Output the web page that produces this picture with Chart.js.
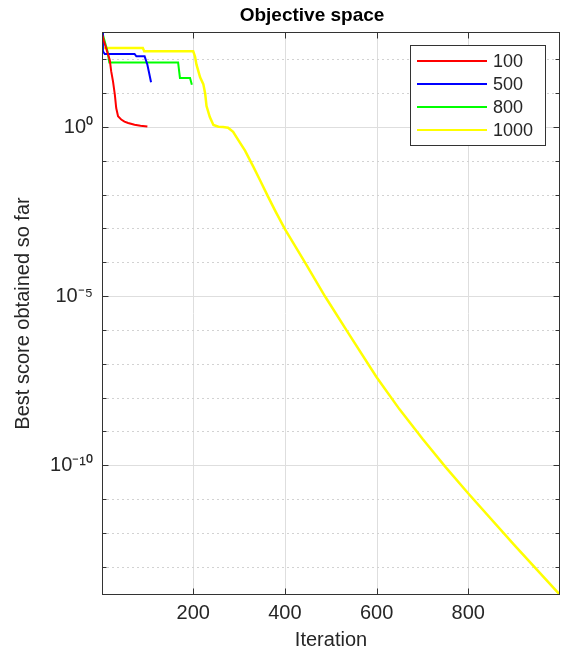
<!DOCTYPE html>
<html><head><meta charset="utf-8">
<script src="https://cdn.jsdelivr.net/npm/chart.js@4.4.0/dist/chart.umd.min.js"></script>
<style>html,body{margin:0;padding:0;background:#fff;}#wrap{width:562px;height:656px;}</style>
</head><body><div id="wrap"><canvas id="c" width="562" height="656"></canvas></div>
<script>
// ---- data ----
const seriesLabels = ['100', '500', '800', '1000'];
const seriesColors = ['#ff0000', '#0000ff', '#00ff00', '#ffff00'];

const redIter = [1, 5, 10, 18, 21, 25, 29, 32, 36, 43, 50, 58, 72, 85, 100];
const redVal  = [562, 355, 214, 95.5, 44.7, 22.4, 9.12, 3.63, 2.09, 1.66, 1.445, 1.318, 1.175, 1.096, 1.035];

const blueIter = [1, 3, 7, 72, 76, 94, 100, 103, 108];
const blueVal  = [603, 174, 145, 145, 123, 123, 69.2, 44.7, 21.0];

const greenIter = [1, 3, 7, 13, 16, 17, 167, 171, 193, 197];
const greenVal  = [603, 537, 339, 174, 97.7, 81.3, 81.3, 28.2, 28.2, 17.8];

const yellowIter = [1, 2, 90, 93, 200, 204, 207, 215, 222, 226, 229, 236, 244, 255, 265, 276, 287, 298, 313, 331, 346, 364, 380, 400, 444, 488, 539, 600, 650, 700, 750, 800, 900, 1000];
const yellowVal  = [646, 219, 219, 174, 174, 120, 70.8, 29.5, 18.6, 9.77, 4.17, 2.0, 1.15, 1.02, 1.0, 0.955, 0.724, 0.417, 0.200, 0.0676, 0.0263, 0.00832, 0.00309, 9.55e-4, 9.77e-5, 9.55e-6, 7.76e-7, 3.98e-8, 4.47e-9, 6.03e-10, 8.91e-11, 1.45e-11, 4.37e-13, 1.45e-14];

const xTickValues = [200, 400, 600, 800];
const yTickExponents = [2, 1, 0, -1, -2, -3, -4, -5, -6, -7, -8, -9, -10, -11, -12, -13];
const yTickLabels = { '0': '10\u2070', '-5': '10\u207B\u2075', '-10': '10\u207B\u00B9\u2070' };

const xMin = 1, xMax = 1000;
const yMin = 1.445e-14, yMax = 646;

// ---- build ----
const FONT = "'Liberation Sans', Arial, Helvetica, sans-serif";
const TXT = '#262626';
function pts(xs, ys) { return xs.map((x, i) => ({ x: x, y: ys[i] })); }
const allIters = [redIter, blueIter, greenIter, yellowIter];
const allVals = [redVal, blueVal, greenVal, yellowVal];

const datasets = seriesLabels.map((lab, i) => ({
  label: lab,
  data: pts(allIters[i], allVals[i]),
  borderColor: seriesColors[i],
  backgroundColor: seriesColors[i],
  borderWidth: i === 3 ? 2.5 : 2,
  pointRadius: 0,
  tension: 0,
  fill: false
}));

function expOf(v) { return Math.round(Math.log10(v)); }

const matlabPlugin = {
  id: 'matlabFrame',
  beforeDatasetsDraw(chart) {
    const { ctx, chartArea: a, scales: { x, y } } = chart;
    ctx.save();
    ctx.lineWidth = 1;
    ctx.strokeStyle = '#dedede';
    ctx.setLineDash([]);
    xTickValues.forEach(v => {
      const px = Math.round(x.getPixelForValue(v)) + 0.5;
      ctx.beginPath(); ctx.moveTo(px, a.top); ctx.lineTo(px, a.bottom); ctx.stroke();
    });
    yTickExponents.forEach(k => {
      const py = Math.round(y.getPixelForValue(Math.pow(10, k))) + 0.5;
      if (yTickLabels[String(k)] !== undefined) {
        ctx.strokeStyle = '#dedede'; ctx.setLineDash([]);
      } else {
        ctx.strokeStyle = '#d2d2d2'; ctx.setLineDash([2, 3]);
      }
      ctx.beginPath(); ctx.moveTo(a.left, py); ctx.lineTo(a.right, py); ctx.stroke();
    });
    ctx.restore();
  },
  afterDatasetsDraw(chart) {
    const { ctx, chartArea: a, scales: { x, y } } = chart;
    ctx.save();
    ctx.strokeStyle = '#333333';
    ctx.lineWidth = 1;
    ctx.setLineDash([]);
    const L = Math.round(a.left) + 0.5, R = Math.round(a.right) - 0.5;
    const T = Math.round(a.top) + 0.5, B = Math.round(a.bottom) - 0.5;
    ctx.strokeRect(L, T, R - L, B - T);
    xTickValues.forEach(v => {
      const px = Math.round(x.getPixelForValue(v)) + 0.5;
      ctx.beginPath(); ctx.moveTo(px, B); ctx.lineTo(px, B - 6); ctx.stroke();
      ctx.beginPath(); ctx.moveTo(px, T); ctx.lineTo(px, T + 6); ctx.stroke();
    });
    yTickExponents.forEach(k => {
      const py = Math.round(y.getPixelForValue(Math.pow(10, k))) + 0.5;
      const len = yTickLabels[String(k)] !== undefined ? 6 : 4;
      ctx.beginPath(); ctx.moveTo(L, py); ctx.lineTo(L + len, py); ctx.stroke();
      ctx.beginPath(); ctx.moveTo(R, py); ctx.lineTo(R - len, py); ctx.stroke();
    });
    // legend
    const bx = 410.5, by = 45.5, bw = 135, bh = 100;
    ctx.fillStyle = '#ffffff';
    ctx.fillRect(bx, by, bw, bh);
    ctx.strokeStyle = '#333333';
    ctx.strokeRect(bx, by, bw, bh);
    ctx.font = '18px ' + FONT;
    ctx.textBaseline = 'middle';
    ctx.textAlign = 'left';
    chart.data.datasets.forEach((ds, i) => {
      const ry = 61 + i * 23;
      ctx.strokeStyle = ds.borderColor;
      ctx.lineWidth = 2;
      ctx.beginPath(); ctx.moveTo(417, ry); ctx.lineTo(487, ry); ctx.stroke();
      ctx.fillStyle = TXT;
      ctx.fillText(ds.label, 493, ry + 1);
    });
    // title
    ctx.font = 'bold 19px ' + FONT;
    ctx.fillStyle = '#000000';
    ctx.textAlign = 'center';
    ctx.fillText('Objective space', 312, 16);
    ctx.restore();
  }
};

new Chart(document.getElementById('c'), {
  type: 'line',
  data: { datasets: datasets },
  options: {
    responsive: false,
    animation: false,
    devicePixelRatio: 1,
    layout: { padding: { top: 32, right: 2, left: 0, bottom: 0 } },
    plugins: { legend: { display: false }, tooltip: { enabled: false }, title: { display: false } },
    scales: {
      x: {
        type: 'linear', min: xMin, max: xMax,
        afterBuildTicks: s => { s.ticks = xTickValues.map(v => ({ value: v })); },
        afterFit: s => { s.height = 61; },
        grid: { display: false, drawTicks: false },
        border: { display: false },
        ticks: { autoSkip: false, maxRotation: 0, padding: 6, color: TXT, font: { family: FONT, size: 20 }, callback: v => String(v) },
        title: { display: true, text: 'Iteration', color: TXT, font: { family: FONT, size: 20 }, padding: { top: 0, bottom: 4 } }
      },
      y: {
        type: 'logarithmic', min: yMin, max: yMax,
        afterBuildTicks: s => { s.ticks = yTickExponents.map(k => ({ value: Math.pow(10, k) })); },
        afterFit: s => { s.width = 102; },
        grid: { display: false, drawTicks: false },
        border: { display: false },
        ticks: { autoSkip: false, padding: 9, color: TXT, font: { family: FONT, size: 20 },
          callback: v => { const l = yTickLabels[String(expOf(v))]; return l === undefined ? '' : l; } },
        title: { display: true, text: 'Best score obtained so far', color: TXT, font: { family: FONT, size: 20 }, padding: { top: 11, bottom: 0 } }
      }
    }
  },
  plugins: [matlabPlugin]
});
</script>
</body></html>
